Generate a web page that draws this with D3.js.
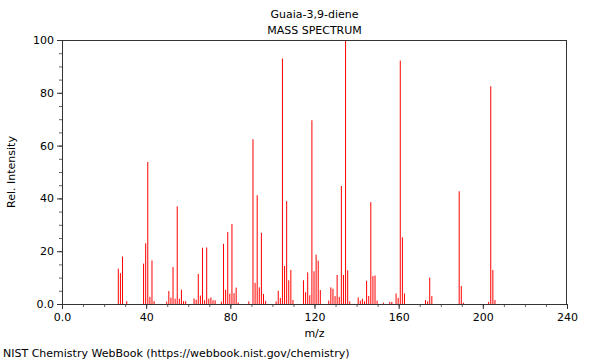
<!DOCTYPE html>
<html>
<head>
<meta charset="utf-8">
<script src="https://cdn.jsdelivr.net/npm/d3@7"></script>
<style>
  body { margin: 0; background: #fff; }
  svg { display: block; font-family: "DejaVu Sans", sans-serif; }
</style>
</head>
<body>
<svg id="chart" width="600" height="360"></svg>
<script>
const title = "Guaia-3,9-diene";
const subtitle = "MASS SPECTRUM";
const xLabel = "m/z";
const yLabel = "Rel. Intensity";
const credit = "NIST Chemistry WebBook (https://webbook.nist.gov/chemistry)";

const mzValues = [27,28,29,31,39,40,41,42,43,44,50,51,52,53,54,55,56,57,58,59,
  63,64,65,66,67,68,69,70,71,72,73,76,77,78,79,80,81,82,83,84,89,91,92,93,94,95,96,97,
  102,103,104,105,106,107,108,109,110,115,116,117,118,119,120,121,122,123,
  127,128,129,130,131,132,133,134,135,136,137,141,142,143,144,145,146,147,148,149,150,
  153,156,157,159,160,161,162,163,173,174,175,176,189,190,191,203,204,205,206];
const intensities = [13.4,11.7,18,1.1,15.3,23,53.8,2.7,16.5,1.1,0.9,4.9,2.4,14,2,37,2,5.4,1.1,1.1,
  2.1,1.6,11.4,3.2,21.3,1.4,21.4,2,2.5,1.4,1.4,0.9,22.8,5.4,27.3,3.9,30.3,4.1,6.2,0.6,1,62.4,8,41.2,6.3,27,3.8,1.2,
  1,5,2.3,93,14.4,39,9,12.9,1.5,9,4.5,12,3.3,69.6,12.4,18.7,16.4,5.3,
  1.3,6.3,5.8,3,11,2.7,44.7,11,100,12.8,1,2.5,1.3,2,1,8.8,3,38.6,10.6,10.8,1.3,
  0.5,0.8,0.8,4,2.3,92.2,25.3,4,1.5,1,10,3,42.7,6.8,0.5,0.8,82.5,12.9,1.5];

const xMajorTicks = [0, 40, 80, 120, 160, 200, 240];
const xTickLabels = ["0.0", "40", "80", "120", "160", "200", "240"];
const yMajorTicks = [0, 20, 40, 60, 80, 100];
const yTickLabels = ["0.0", "20", "40", "60", "80", "100"];

const svg = d3.select("#chart");
const m = {left: 62, right: 33, top: 40, bottom: 56};
const W = 600, H = 360;
const x = d3.scaleLinear().domain([0, 240]).range([m.left, W - m.right]);
const y = d3.scaleLinear().domain([0, 100]).range([H - m.bottom, m.top]);

// bars (1px wide)
svg.append("g").selectAll("rect").data(mzValues).join("rect")
  .attr("x", d => x(d) - 1)
  .attr("width", 1)
  .attr("y", (d, i) => y(intensities[i]))
  .attr("height", (d, i) => y(0) - y(intensities[i]))
  .attr("fill", "#ff0000");

const axisColor = "#333";
// minor ticks
const xAxisMinor = d3.axisBottom(x).tickValues(d3.range(0, 241, 10)).tickSize(3).tickFormat("");
const yAxisMinor = d3.axisLeft(y).tickValues(d3.range(0, 101, 5)).tickSize(3).tickFormat("");
const gxm = svg.append("g").attr("transform", `translate(0,${y(0)})`).call(xAxisMinor);
const gym = svg.append("g").attr("transform", `translate(${x(0)},0)`).call(yAxisMinor);
[gxm, gym].forEach(g => { g.select(".domain").remove(); g.selectAll("line").attr("stroke", "#666"); });

// major axes
const xAxis = d3.axisBottom(x).tickValues(xMajorTicks).tickSize(5).tickPadding(4)
  .tickFormat((d, i) => xTickLabels[i]);
const yAxis = d3.axisLeft(y).tickValues(yMajorTicks).tickSize(5).tickPadding(3)
  .tickFormat((d, i) => yTickLabels[i]);
const gx = svg.append("g").attr("transform", `translate(0,${y(0)})`).call(xAxis);
const gy = svg.append("g").attr("transform", `translate(${x(0)},0)`).call(yAxis);
[gx, gy].forEach(g => {
  g.selectAll("line").attr("stroke", axisColor);
  g.select(".domain").attr("stroke", axisColor);
  g.selectAll("text").attr("font-family", "DejaVu Sans").attr("font-size", 11).attr("fill", "#000");
});

// frame top and right
svg.append("line").attr("x1", x(0)).attr("x2", x(240)).attr("y1", y(100) + 0.5).attr("y2", y(100) + 0.5)
  .attr("stroke", axisColor);
svg.append("line").attr("x1", x(240) - 0.5).attr("x2", x(240) - 0.5).attr("y1", y(100)).attr("y2", y(0))
  .attr("stroke", axisColor);

// titles
svg.append("text").attr("x", (x(0) + x(240)) / 2).attr("y", 17.5).attr("text-anchor", "middle")
  .attr("font-size", 11).text(title);
svg.append("text").attr("x", (x(0) + x(240)) / 2).attr("y", 34).attr("text-anchor", "middle")
  .attr("font-size", 11).text(subtitle);
svg.append("text").attr("x", (x(0) + x(240)) / 2).attr("y", 337).attr("text-anchor", "middle")
  .attr("font-size", 11).text(xLabel);
svg.append("text").attr("transform", `translate(15,${(y(0) + y(100)) / 2}) rotate(-90)`)
  .attr("text-anchor", "middle").attr("font-size", 11).text(yLabel);
svg.append("text").attr("x", 3).attr("y", 357).attr("font-size", 11).text(credit);
</script>
</body>
</html>
